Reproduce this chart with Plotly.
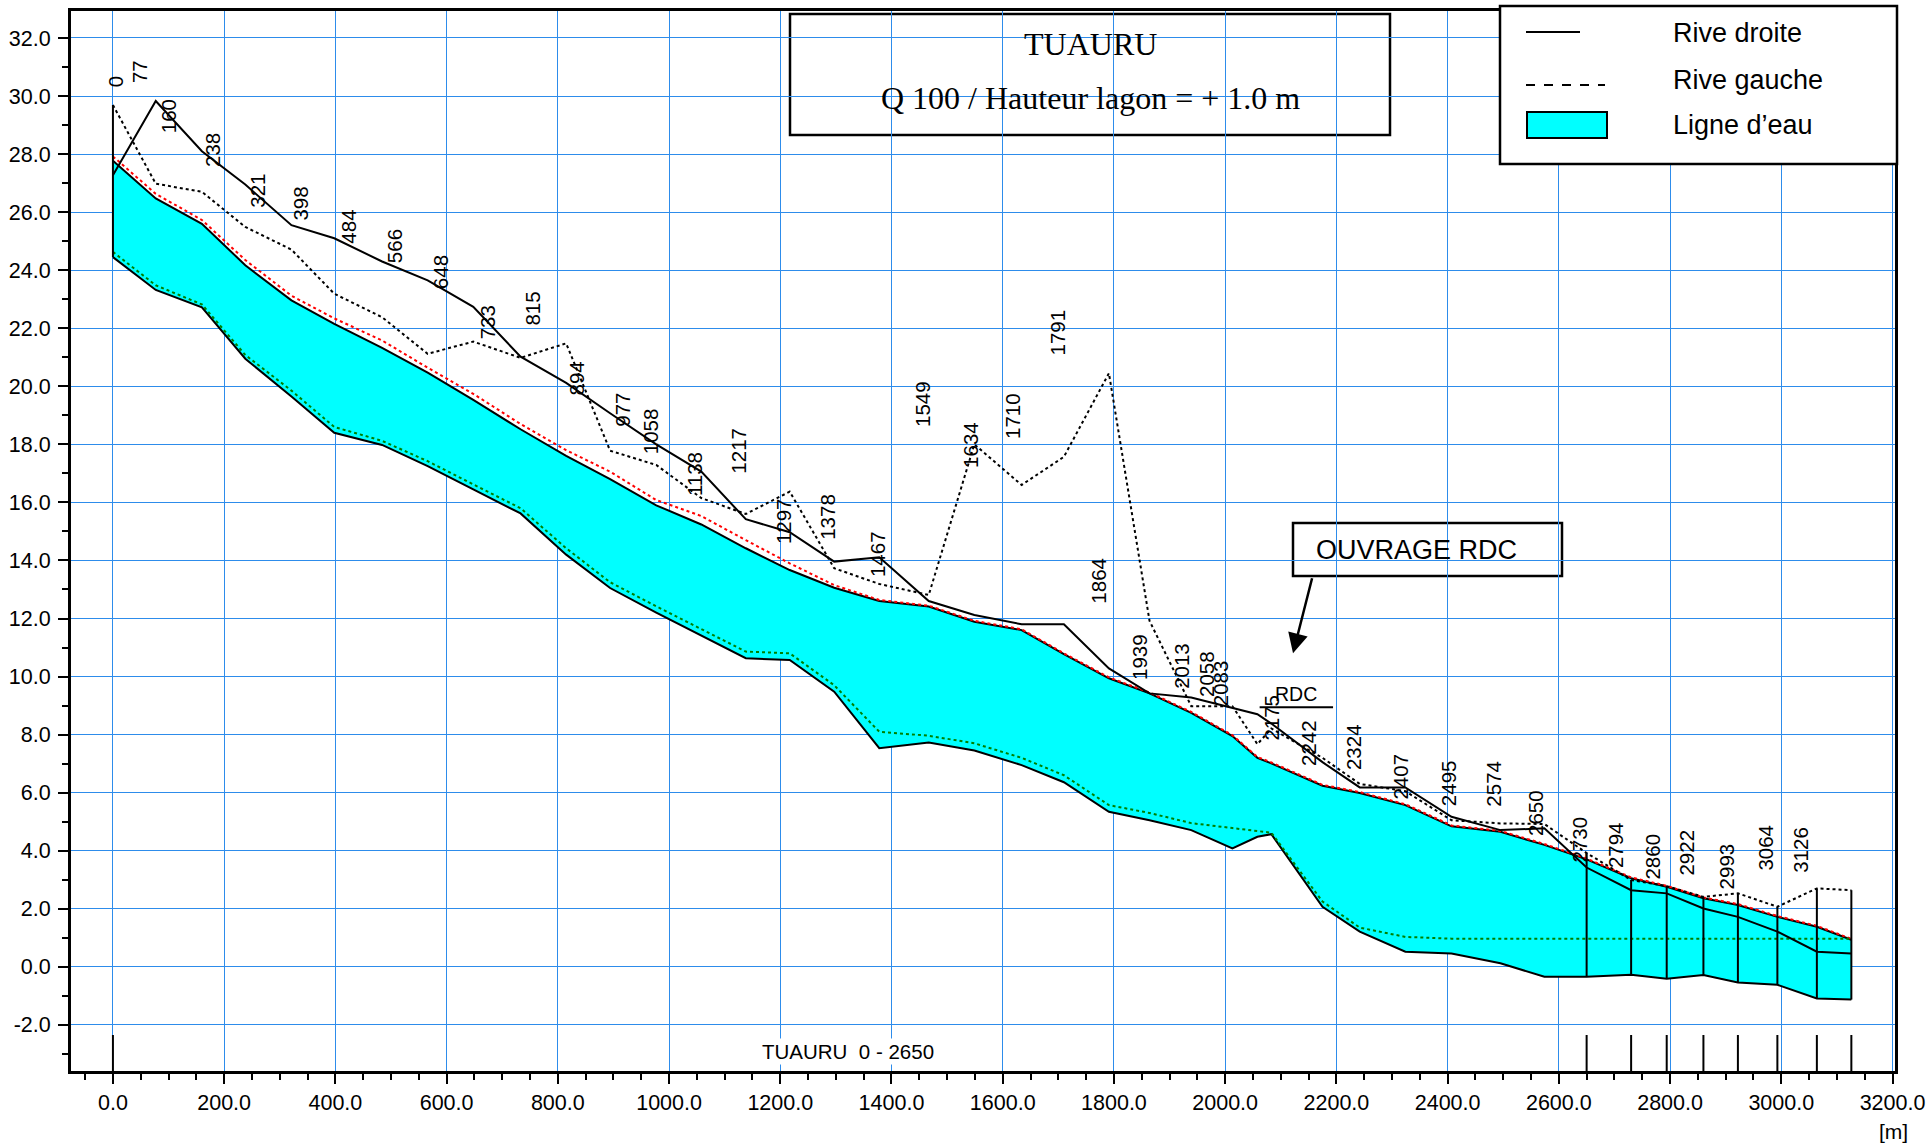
import plotly.graph_objects as go

# ---------------- data ----------------
stations = [0, 77, 160, 238, 321, 398, 484, 566, 648, 733, 815, 894, 977, 1058,
            1138, 1217, 1297, 1378, 1467, 1549, 1634, 1710, 1791, 1864, 1939,
            2013, 2058, 2083, 2175, 2242, 2324, 2407, 2495, 2574, 2650, 2730,
            2794, 2860, 2922, 2993, 3064, 3126]

rive_droite = [27.27, 29.83, 28.10, 26.95, 25.55, 25.10, 24.30, 23.65, 22.74, 21.02,
               20.12, 19.07, 18.00, 17.06, 15.42, 14.97, 13.96, 14.11, 12.60, 12.12,
               11.80, 11.80, 10.28, 9.42, 9.28, 8.92, 8.70, 8.38, 7.05, 6.18,
               6.18, 5.17, 4.71, 4.77, 3.42, 2.64, 2.53, 2.01, 1.72, 1.21, 0.52, 0.46]

rive_gauche = [29.69, 26.98, 26.70, 25.49, 24.71, 23.19, 22.38, 21.12, 21.54, 20.98,
               21.48, 17.78, 17.29, 16.15, 15.60, 16.37, 13.73, 13.19, 12.81, 18.00,
               16.60, 17.57, 20.45, 11.92, 8.98, 8.98, 7.67, 8.21, 7.20, 6.30,
               6.05, 5.05, 4.94, 4.92, 3.92, 2.99, 2.78, 2.41, 2.53, 2.07, 2.70, 2.64]

ligne_eau = [27.77, 26.47, 25.60, 24.17, 22.96, 22.15, 21.32, 20.47, 19.53, 18.52,
             17.60, 16.80, 15.90, 15.24, 14.42, 13.67, 13.06, 12.60, 12.41, 11.89,
             11.60, 10.77, 9.94, 9.42, 8.75, 7.95, 7.20, 7.01, 6.24, 5.99,
             5.57, 4.84, 4.65, 4.20, 3.70, 3.05, 2.76, 2.36, 2.13, 1.72, 1.38, 0.93]

ligne_energie = [27.92, 26.63, 25.73, 24.35, 23.12, 22.34, 21.58, 20.64, 19.74, 18.70,
                 17.80, 17.06, 16.08, 15.53, 14.70, 13.90, 13.15, 12.64, 12.44, 11.92,
                 11.63, 10.80, 9.97, 9.45, 8.78, 7.98, 7.23, 7.04, 6.27, 6.02,
                 5.60, 4.87, 4.68, 4.23, 3.73, 3.08, 2.79, 2.39, 2.16, 1.75, 1.41, 0.96]

fond = [24.45, 23.32, 22.72, 20.95, 19.65, 18.40, 17.98, 17.25, 16.45, 15.62,
        14.20, 13.05, 12.20, 11.42, 10.63, 10.57, 9.48, 7.53, 7.73, 7.45,
        6.95, 6.36, 5.34, 5.05, 4.71, 4.08, 4.48, 4.57, 2.07, 1.21,
        0.52, 0.46, 0.12, -0.34, -0.34, -0.27, -0.41, -0.28, -0.54, -0.62, -1.09, -1.13]

ligne_critique = [24.63, 23.48, 22.82, 21.08, 19.85, 18.60, 18.12, 17.42, 16.62, 15.80,
                  14.42, 13.25, 12.42, 11.63, 10.86, 10.80, 9.70, 8.10, 7.96, 7.70,
                  7.20, 6.60, 5.57, 5.30, 4.95, 4.78, 4.68, 4.62, 2.25, 1.35,
                  1.03, 0.97, 0.97, 0.97, 0.97, 0.97, 0.97, 0.97, 0.97, 0.97, 0.97, 0.97]

profils_marques = [0, 2650, 2730, 2794, 2860, 2922, 2993, 3064, 3126]
rdc_tablier_x = [2062, 2194]
rdc_tablier_z = [8.94, 8.94]
fleche_ouvrage = {"tip": (2122, 10.8), "tail": (2157, 13.44)}

x_ticks = list(range(0, 3201, 200))
y_ticks = list(range(-2, 33, 2))
X_RANGE = [-75.4, 3204.5]
Y_RANGE = [-3.59, 32.93]

# ---------------- layout geometry ----------------
W, H = 1928, 1143
ML, MR, MT, MB = 71, 33, 11, 72
PW, PH = W - ML - MR, H - MT - MB


def px(X):
    return (X - ML) / PW


def py(Y):
    return (H - MB - Y) / PH


SANS = "Liberation Sans, Arial, sans-serif"
SERIF = "Liberation Serif, Times New Roman, serif"
GRID = "rgb(45,140,235)"

fig = go.Figure()

# bed then water surface (filled)
fig.add_trace(go.Scatter(x=stations, y=fond, mode="lines",
                         line=dict(color="black", width=2), hoverinfo="skip", showlegend=False))
fig.add_trace(go.Scatter(x=stations, y=ligne_eau, mode="lines", fill="tonexty",
                         fillcolor="#00FFFF", line=dict(color="black", width=2),
                         name="Ligne d’eau", showlegend=False))
fig.add_trace(go.Scatter(x=stations, y=ligne_energie, mode="lines",
                         line=dict(color="red", width=2, dash="dot"), showlegend=False))
fig.add_trace(go.Scatter(x=stations, y=ligne_critique, mode="lines",
                         line=dict(color="green", width=2, dash="dot"), showlegend=False))

# cross-section vertical lines and bottom markers
vx, vy, mx, my = [], [], [], []
for s in profils_marques:
    i = stations.index(s)
    vx += [s, s, None]
    vy += [fond[i], max(rive_droite[i], rive_gauche[i]), None]
    mx += [s, s, None]
    my += [-2.35, Y_RANGE[0], None]
fig.add_trace(go.Scatter(x=vx, y=vy, mode="lines", line=dict(color="black", width=2),
                         showlegend=False, hoverinfo="skip"))
fig.add_trace(go.Scatter(x=mx, y=my, mode="lines", line=dict(color="black", width=2),
                         showlegend=False, hoverinfo="skip", cliponaxis=False))

fig.add_trace(go.Scatter(x=stations, y=rive_gauche, mode="lines",
                         line=dict(color="black", width=2, dash="dot"),
                         name="Rive gauche", showlegend=False))
fig.add_trace(go.Scatter(x=stations, y=rive_droite, mode="lines",
                         line=dict(color="black", width=2),
                         name="Rive droite", showlegend=False))
fig.add_trace(go.Scatter(x=rdc_tablier_x, y=rdc_tablier_z, mode="lines",
                         line=dict(color="black", width=2), showlegend=False))

annotations = []
# station labels
for s, rd, rg in zip(stations, rive_droite, rive_gauche):
    t = str(s)
    annotations.append(dict(x=s + 36 - 32 * len(t), y=max(rd, rg) + 0.57, text=t,
                            textangle=-90, showarrow=False, xanchor="center",
                            yanchor="bottom", borderpad=0,
                            font=dict(family=SANS, size=20.5, color="black")))

annotations.append(dict(x=(rdc_tablier_x[0] + rdc_tablier_x[1]) / 2, y=rdc_tablier_z[0],
                        text="RDC", showarrow=False, xanchor="center", yanchor="bottom",
                        font=dict(family=SANS, size=19.5, color="black")))
annotations.append(dict(x=1321, y=-2.92, text="TUAURU  0 - 2650", showarrow=False,
                        xanchor="center", yanchor="middle",
                        font=dict(family=SANS, size=20.5, color="black"), bgcolor="white"))
annotations.append(dict(x=fleche_ouvrage["tip"][0], y=fleche_ouvrage["tip"][1],
                        ax=fleche_ouvrage["tail"][0], ay=fleche_ouvrage["tail"][1],
                        axref="x", ayref="y", text="", showarrow=True,
                        arrowhead=2, arrowsize=1.6, arrowwidth=2.5, arrowcolor="black"))


def paper_text(X, Y, text, size, family=SANS, xanchor="center"):
    return dict(xref="paper", yref="paper", x=px(X), y=py(Y), text=text,
                xanchor=xanchor, yanchor="middle", showarrow=False,
                font=dict(family=family, size=size, color="black"))


# text boxes
annotations.append(paper_text(1090, 44, "TUAURU", 32, SERIF))
annotations.append(paper_text(1090, 98, "Q 100 / Hauteur lagon = + 1.0 m", 32, SERIF))
annotations.append(paper_text(1314, 550, "OUVRAGE RDC", 27, xanchor="left"))
for label, Y in [("Rive droite", 33), ("Rive gauche", 80), ("Ligne d’eau", 125)]:
    annotations.append(paper_text(1671, Y, label, 27, xanchor="left"))
annotations.append(paper_text(1893, 1131, "[m]", 21))

shapes = []
# title box
shapes.append(dict(type="rect", xref="paper", yref="paper", x0=px(790), x1=px(1390),
                   y0=py(135), y1=py(14), line=dict(color="black", width=2.5),
                   fillcolor="white", layer="below"))
# ouvrage box
shapes.append(dict(type="rect", xref="paper", yref="paper", x0=px(1293), x1=px(1562),
                   y0=py(576), y1=py(523), line=dict(color="black", width=2.5),
                   fillcolor="white", layer="below"))
# legend box
shapes.append(dict(type="rect", xref="paper", yref="paper", x0=px(1500), x1=px(1897),
                   y0=py(164), y1=py(6), line=dict(color="black", width=2.5),
                   fillcolor="white", layer="above"))
shapes.append(dict(type="line", xref="paper", yref="paper", x0=px(1526), x1=px(1580),
                   y0=py(32), y1=py(32), line=dict(color="black", width=2)))
shapes.append(dict(type="line", xref="paper", yref="paper", x0=px(1526), x1=px(1605),
                   y0=py(85), y1=py(85), line=dict(color="black", width=2, dash="dash")))
shapes.append(dict(type="rect", xref="paper", yref="paper", x0=px(1527), x1=px(1607),
                   y0=py(138), y1=py(112), line=dict(color="black", width=2),
                   fillcolor="#00FFFF"))

fig.update_layout(
    width=W, height=H,
    margin=dict(l=ML, r=MR, t=MT, b=MB, pad=0, autoexpand=False),
    paper_bgcolor="white", plot_bgcolor="white",
    showlegend=False,
    annotations=annotations,
    shapes=shapes,
    font=dict(family=SANS, size=21.5, color="black"),
)
fig.update_xaxes(range=X_RANGE, tickvals=x_ticks, ticktext=[f"{v:.1f}" for v in x_ticks],
                 automargin=False,
                 showgrid=True, gridcolor=GRID, gridwidth=1.2, zeroline=False,
                 showline=True, linecolor="black", linewidth=3, mirror=True,
                 ticks="outside", ticklen=10, tickwidth=2, tickcolor="black",
                 ticklabelstandoff=0,
                 minor=dict(dtick=50, tick0=0, ticks="outside", ticklen=6, tickwidth=2,
                            tickcolor="black", showgrid=False),
                 tickfont=dict(family=SANS, size=21.5, color="black"))
fig.update_yaxes(range=Y_RANGE, tickvals=y_ticks, ticktext=[f"{v:.1f}" for v in y_ticks],
                 automargin=False,
                 showgrid=True, gridcolor=GRID, gridwidth=1.2, zeroline=False,
                 showline=True, linecolor="black", linewidth=3, mirror=True,
                 ticks="outside", ticklen=10, tickwidth=2, tickcolor="black",
                 ticklabelstandoff=3,
                 minor=dict(dtick=1, tick0=0, ticks="outside", ticklen=6, tickwidth=2,
                            tickcolor="black", showgrid=False),
                 tickfont=dict(family=SANS, size=21.5, color="black"))

fig.write_html("out.html", config={"displayModeBar": False},
               post_script="document.body.style.margin='0';document.body.style.overflow='hidden';")
